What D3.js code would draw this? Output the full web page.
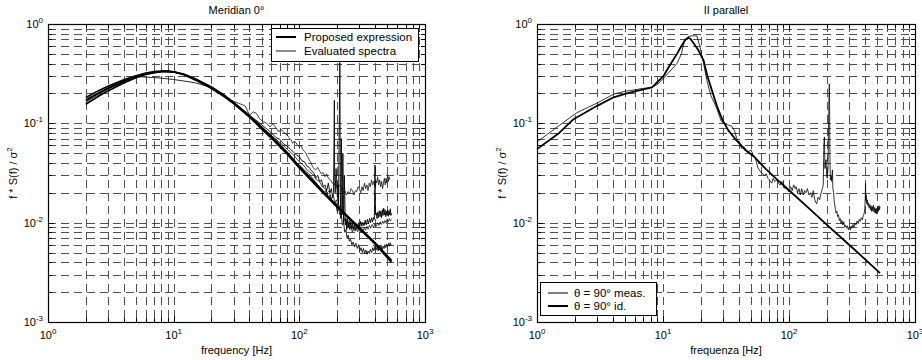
<!DOCTYPE html>
<html><head><meta charset="utf-8">
<script src="https://cdn.jsdelivr.net/npm/d3@7"></script>
<style>body{margin:0;background:#fff}svg{display:block}text{font-family:"Liberation Sans",Arial,sans-serif;fill:#000}</style>
</head><body><svg id="c" width="922" height="360"></svg>
<script>
// ---------- DATA ----------
const xTickLabels = ["0","1","2","3"];        // exponents of 10 on x
const yTickLabels = ["0","-1","-2","-3"];     // exponents of 10 on y

// Left panel: "Meridian 0°"
const leftTitle = "Meridian  0°";
const leftXLabel = "frequency [Hz]";
const leftLegend = ["Proposed expression","Evaluated spectra"];

const propF = [2,2.5,3,4,5,6,7,8,9,10,12,15,20,25,30,40,50,60,80,100,150,200,300,400,540];
const prop1 = [0.17,0.2,0.225,0.265,0.295,0.315,0.327,0.333,0.333,0.328,0.31,0.275,0.228,0.19,0.16,0.118,0.09,0.072,0.05,0.036,0.021,0.0145,0.0088,0.0062,0.0041];
const prop2 = [0.155,0.186,0.212,0.255,0.288,0.31,0.324,0.331,0.334,0.33,0.313,0.28,0.232,0.193,0.163,0.12,0.092,0.074,0.051,0.037,0.0215,0.0148,0.009,0.0063,0.0042];
const prop3 = [0.182,0.212,0.236,0.275,0.302,0.321,0.332,0.337,0.336,0.33,0.31,0.272,0.224,0.187,0.158,0.116,0.088,0.071,0.049,0.0355,0.0207,0.0143,0.0087,0.0061,0.004];

const m1F = [2,3,4,5,6,8,10,12,15,20,25,28,33,37,40.2,43,45.6,48,51.6,55,58.3,61,63,66,68.7,71,73,76,78,81,83,86,88.4,91,94,97,100,103,106,110,113,116,118,121,124,127,131,135,140,145,150,155,160,165,170,177,183,190,195,200,207,215,222,230,237,244,251,258,265,272,279,286,293,300,308,315,322,330,337,345,352,360,368,375,383,390,398,405,413,420,428,436,444,452,460,467,475,482,490,497,505,512,518,525];
const m1V = [0.163,0.22,0.262,0.292,0.312,0.332,0.327,0.31,0.276,0.232,0.196,0.172,0.159,0.15,0.121,0.13,0.126,0.112,0.104,0.1,0.092,0.098,0.096,0.088,0.082,0.087,0.085,0.08,0.079,0.074,0.072,0.068,0.063,0.066,0.064,0.06,0.058,0.06,0.055,0.052,0.05,0.046,0.045,0.042,0.04,0.037,0.035,0.034,0.036,0.033,0.031,0.032,0.029,0.031,0.028,0.027,0.025,0.024,0.026,0.022,0.024,0.023,0.02,0.021,0.019,0.0205,0.0196,0.022,0.021,0.019,0.021,0.0205,0.023,0.022,0.02,0.023,0.021,0.025,0.022,0.024,0.021,0.025,0.023,0.027,0.024,0.026,0.023,0.027,0.025,0.029,0.024,0.027,0.023,0.026,0.022,0.025,0.028,0.024,0.028,0.025,0.03,0.026,0.029,0.027];

const m2F = [2,3,4,5,6,8,10,12,15,20,25,30,40,45,50,55,60,65,70,75,80,85,90,95,100,105,110,115,120,125,130,135,140,145,150,155,160,165,170,175,180,184,187,189,190,191,193,196,198,201,203,205,207,209,210,211,212,214,216,218,219,221,222,224,225,228,230,232,235,238,241,245,249,253,257,262,266,271,276,281,286,291,296,302,308,314,320,327,334,341,348,355,362,369,376,383,390,395,398,400,402,405,410,415,421,427,433,439,445,451,457,463,469,475,481,487,493,499,505,511,517,523,530,535,540];
const m2V = [0.175,0.228,0.268,0.296,0.316,0.334,0.33,0.312,0.278,0.226,0.19,0.162,0.12,0.108,0.097,0.088,0.08,0.072,0.069,0.062,0.059,0.055,0.051,0.048,0.046,0.042,0.041,0.037,0.036,0.033,0.032,0.028,0.03,0.026,0.027,0.023,0.024,0.021,0.025,0.02,0.022,0.018,0.02,0.08,0.17,0.03,0.02,0.035,0.028,0.018,0.024,0.015,0.06,0.2,0.41,0.1,0.02,0.011,0.07,0.03,0.012,0.02,0.05,0.015,0.01,0.03,0.018,0.0095,0.011,0.0085,0.011,0.009,0.0105,0.0088,0.0102,0.0086,0.0098,0.0085,0.0095,0.0084,0.0097,0.0087,0.01,0.0089,0.0103,0.0092,0.0101,0.0093,0.0106,0.0095,0.0108,0.0097,0.011,0.01,0.0112,0.0102,0.0113,0.0108,0.02,0.038,0.018,0.012,0.0125,0.011,0.0128,0.0113,0.0132,0.0115,0.013,0.0112,0.0135,0.0118,0.014,0.012,0.0135,0.0115,0.013,0.0118,0.0134,0.0116,0.0132,0.012,0.0138,0.0118,0.0125];

const m3F = [2,3,4,5,5.5,6,8,10,13,15,20,25,30,40,45,50,55,60,65,70,75,80,85,90,95,100,107,115,122,130,137,143,150,157,163,170,176,183,190,195,200,205,210,215,220,225,230,235,240,245,250,256,262,268,275,282,289,296,303,310,317,324,331,338,345,352,360,368,376,384,392,400,408,416,424,432,440,448,456,464,472,480,488,496,504,512,520,528,535,540];
const m3V = [0.158,0.212,0.255,0.287,0.295,0.292,0.285,0.276,0.263,0.255,0.23,0.192,0.16,0.115,0.1,0.088,0.078,0.07,0.064,0.058,0.054,0.05,0.046,0.043,0.04,0.038,0.035,0.032,0.03,0.027,0.025,0.023,0.022,0.02,0.021,0.018,0.019,0.016,0.015,0.016,0.013,0.014,0.012,0.0125,0.0095,0.01,0.008,0.0085,0.007,0.0075,0.0065,0.0068,0.006,0.0064,0.0057,0.0062,0.0055,0.006,0.0052,0.0056,0.005,0.0055,0.0049,0.0053,0.0048,0.0052,0.0049,0.0054,0.005,0.0056,0.0052,0.0058,0.0053,0.0057,0.0052,0.0058,0.0054,0.0059,0.0053,0.0058,0.0055,0.006,0.0056,0.0061,0.0057,0.0062,0.0058,0.0063,0.0059,0.006];

const m4F = [2,3,4,5,6,8,10,12,15,20,25,30,40,50,60,70,80,90,100,108,115,122,130,137,145,152,160,167,173,180,186,192,198,204,210,216,222,228,234,240,246,252,258,264,270,277,284,291,298,305,313,321,329,337,345,353,361,370,380,390,400,410,420,430,440,450,460,470,480,490,500,510,520,530,540];
const m4V = [0.168,0.224,0.264,0.293,0.313,0.331,0.327,0.31,0.274,0.229,0.193,0.162,0.118,0.092,0.075,0.064,0.055,0.048,0.041,0.038,0.034,0.032,0.03,0.027,0.026,0.023,0.022,0.02,0.021,0.017,0.019,0.016,0.017,0.014,0.015,0.012,0.013,0.0105,0.011,0.009,0.0098,0.0085,0.0092,0.008,0.0088,0.0082,0.009,0.0081,0.0088,0.008,0.0087,0.0082,0.009,0.0084,0.0092,0.0086,0.0094,0.0088,0.0096,0.009,0.0098,0.0092,0.01,0.0094,0.0102,0.0096,0.0104,0.0098,0.0105,0.01,0.0108,0.0102,0.011,0.0104,0.0108];

// Right panel: "II parallel"
const rightTitle = "II parallel";
const rightXLabel = "frequenza [Hz]";
const rightLegend = ["\u03b8 =  90° meas.","\u03b8 =  90° id."];

const measF = [1,1.5,2.07,3,4.06,5,6,7,8.17,9,10,11,12.9,14,14.8,16,16.9,18.6,19.7,21,22.3,24,26.5,29,31,33,35,37,38.5,40.4,42,44,46,48,50,52,54,56.5,58,60,62,64,66,68,70,73,75,77,80,82,85,88,90,93,95,98,100,103,106,109,112,114,117,120,123,126,130,133,136,140,144,148,152,156,160,163,166,170,175,180,184,187,189,191,193,195,197,199,201,204,206,208,209,210,211,213,216,218,221,223,226,229,233,236,240,243,247,251,255,259,263,267,272,276,281,286,291,296,301,306,311,316,322,328,334,340,347,354,361,368,375,382,389,396,400,403,405,407,410,414,418,423,428,433,438,443,448,453,458,463,468,473,478,483,488,493,498,503,508,513,518,523,528];
const measV = [0.065,0.095,0.128,0.16,0.197,0.21,0.218,0.225,0.23,0.245,0.28,0.32,0.4,0.5,0.69,0.75,0.76,0.76,0.58,0.4,0.27,0.19,0.145,0.105,0.098,0.096,0.094,0.084,0.07,0.063,0.056,0.058,0.053,0.052,0.054,0.048,0.045,0.036,0.034,0.032,0.031,0.03,0.031,0.028,0.027,0.025,0.028,0.026,0.027,0.025,0.024,0.026,0.025,0.022,0.023,0.021,0.0205,0.023,0.021,0.024,0.022,0.023,0.02,0.022,0.019,0.022,0.019,0.021,0.02,0.022,0.019,0.02,0.018,0.021,0.017,0.016,0.0155,0.018,0.017,0.02,0.022,0.024,0.06,0.073,0.035,0.04,0.043,0.03,0.028,0.035,0.1,0.2,0.25,0.15,0.05,0.027,0.03,0.026,0.034,0.022,0.02,0.016,0.014,0.0125,0.013,0.0115,0.012,0.0105,0.011,0.0098,0.0105,0.0095,0.0102,0.009,0.0095,0.0088,0.0093,0.0085,0.009,0.0084,0.0092,0.0088,0.0096,0.009,0.0099,0.0095,0.0104,0.0098,0.0108,0.0103,0.0112,0.0107,0.0118,0.0125,0.014,0.018,0.0249,0.017,0.019,0.0155,0.017,0.0148,0.0158,0.014,0.0152,0.0135,0.0148,0.013,0.0145,0.0132,0.015,0.0128,0.0142,0.0125,0.0138,0.0122,0.014,0.0128,0.0145,0.013,0.0148,0.0135,0.0145];

const idF = [1,1.5,1.95,3,4.06,5,6,7,8.17,9,10.1,11,12.9,14,15,15.8,16.5,17.5,19,21,22.5,24.9,27,29.9,33,38,45,53,65,81,100,150,200,300,400,528];
const idV = [0.055,0.08,0.11,0.15,0.183,0.198,0.21,0.22,0.23,0.26,0.3,0.36,0.5,0.6,0.69,0.73,0.71,0.64,0.55,0.43,0.3,0.2,0.145,0.106,0.085,0.068,0.054,0.046,0.035,0.027,0.0212,0.0133,0.0095,0.006,0.0043,0.0031];

// ---------- DRAW ----------
const svg = d3.select("#c");
const zip = (F,V) => F.map((f,i)=>[f,V[i]]);

function panel(o){
  const x = d3.scaleLog().domain([1,1000]).range([o.x0,o.x1]);
  const y = d3.scaleLog().domain([0.001,1]).range([o.y1,o.y0]);
  const g = svg.append("g");
  const minors = [];
  for (let d=0; d<3; d++) for (let k=1;k<=9;k++) minors.push(k*Math.pow(10,d));
  minors.push(1000);
  const yminors = [];
  for (let d=-3; d<0; d++) for (let k=1;k<=9;k++) yminors.push(k*Math.pow(10,d));
  yminors.push(1);
  // grid
  const grid = g.append("g").attr("stroke","#505050").attr("stroke-width",1).attr("stroke-dasharray","8,5").attr("fill","none");
  minors.forEach(f=>{ if(f>1 && f<1000) grid.append("line").attr("x1",Math.round(x(f))+0.5).attr("x2",Math.round(x(f))+0.5).attr("y1",o.y0).attr("y2",o.y1); });
  yminors.forEach(v=>{ if(v>0.001 && v<1) grid.append("line").attr("y1",Math.round(y(v))+0.5).attr("y2",Math.round(y(v))+0.5).attr("x1",o.x0).attr("x2",o.x1); });
  // ticks (inward, all sides)
  const tk = g.append("g").attr("stroke","#000").attr("stroke-width",1);
  minors.forEach((f,i)=>{ const L = (Math.log10(f)%1===0)?6:4; const px=Math.round(x(f))+0.5;
    tk.append("line").attr("x1",px).attr("x2",px).attr("y1",o.y1).attr("y2",o.y1-L);
    tk.append("line").attr("x1",px).attr("x2",px).attr("y1",o.y0).attr("y2",o.y0+L); });
  yminors.forEach(v=>{ const L = (Math.abs(Math.log10(v)%1)<1e-9)?6:4; const py=Math.round(y(v))+0.5;
    tk.append("line").attr("y1",py).attr("y2",py).attr("x1",o.x0).attr("x2",o.x0+L);
    tk.append("line").attr("y1",py).attr("y2",py).attr("x1",o.x1).attr("x2",o.x1-L); });
  // tick labels
  xTickLabels.forEach((e,i)=>{ const t=g.append("text").attr("x",x(Math.pow(10,+e))).attr("y",o.y1+17).attr("text-anchor","middle").attr("font-size",11);
    t.append("tspan").text("10"); t.append("tspan").attr("font-size",8).attr("dy",-5).text(e); });
  yTickLabels.forEach((e,i)=>{ const t=g.append("text").attr("x",o.x0-5).attr("y",y(Math.pow(10,+e))+4).attr("text-anchor","end").attr("font-size",11);
    t.append("tspan").text("10"); t.append("tspan").attr("font-size",8).attr("dy",-5).text(e); });
  // axis titles
  g.append("text").attr("x",(o.x0+o.x1)/2).attr("y",354).attr("text-anchor","middle").attr("font-size",11).text(o.xlabel);
  const yl = g.append("text").attr("transform",`translate(${o.x0-31},${(o.y0+o.y1)/2}) rotate(-90)`).attr("text-anchor","middle").attr("font-size",11);
  yl.append("tspan").text("f * S(f) / \u03c3"); yl.append("tspan").attr("font-size",8).attr("dy",-5).text("2");
  g.append("text").attr("x",(o.x0+o.x1)/2).attr("y",14).attr("text-anchor","middle").attr("font-size",11).text(o.title);
  // curves
  const line = d3.line().x(d=>x(d[0])).y(d=>y(d[1]));
  const cg = g.append("g").attr("fill","none").attr("stroke-linejoin","round");
  o.curves.forEach(c=>{ cg.append("path").datum(c.data).attr("d",line).attr("stroke",c.color).attr("stroke-width",c.w); });
  // frame
  g.append("rect").attr("x",o.x0+0.5).attr("y",o.y0+0.5).attr("width",o.x1-o.x0).attr("height",o.y1-o.y0).attr("fill","none").attr("stroke","#000").attr("stroke-width",1.2);
  // legend
  const L=o.legend;
  const lg = g.append("g");
  lg.append("rect").attr("x",L.x+0.5).attr("y",L.y+0.5).attr("width",L.w).attr("height",L.h).attr("fill","#fff").attr("stroke","#000").attr("stroke-width",1);
  L.items.forEach((it,i)=>{ const yy=L.y+L.first+i*L.step;
    lg.append("line").attr("x1",L.x+L.lx0).attr("x2",L.x+L.lx1).attr("y1",yy).attr("y2",yy).attr("stroke",it.color).attr("stroke-width",it.w);
    lg.append("text").attr("x",L.x+L.tx).attr("y",yy+4).attr("font-size",11.5).text(it.label); });
}

panel({x0:48,x1:425,y0:24,y1:322,title:leftTitle,xlabel:leftXLabel,
  curves:[
    {data:zip(m1F,m1V),color:"#111",w:0.8},
    {data:zip(m2F,m2V),color:"#000",w:0.9},
    {data:zip(m4F,m4V),color:"#111",w:0.8},
    {data:zip(m3F,m3V),color:"#111",w:0.9},
    {data:zip(propF,prop1),color:"#000",w:1.6},
    {data:zip(propF,prop2),color:"#000",w:1.6},
    {data:zip(propF,prop3),color:"#000",w:1.6}],
  legend:{x:271,y:28,w:147,h:33,first:9,step:14,lx0:5,lx1:25,tx:33,
    items:[{label:leftLegend[0],color:"#000",w:2},{label:leftLegend[1],color:"#666",w:1.5}]}});

panel({x0:537,x1:915,y0:24,y1:322,title:rightTitle,xlabel:rightXLabel,
  curves:[
    {data:zip(measF,measV),color:"#000",w:0.8},
    {data:zip(idF,idV),color:"#000",w:1.8}],
  legend:{x:540,y:282,w:116,h:33,first:11,step:13,lx0:8,lx1:28,tx:34,
    items:[{label:rightLegend[0],color:"#000",w:1},{label:rightLegend[1],color:"#000",w:2}]}});
</script></body></html>
